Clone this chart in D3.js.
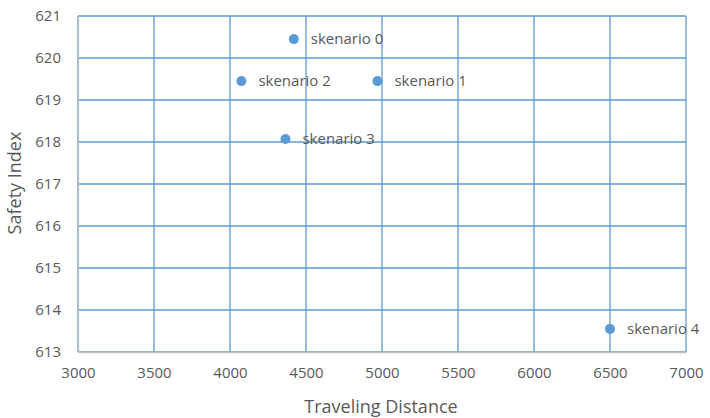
<!DOCTYPE html>
<html><head><meta charset="utf-8">
<script src="https://cdn.jsdelivr.net/npm/d3@7"></script>
<style>body{margin:0;background:#fff}svg{display:block}</style>
</head><body>
<script>
const labels = ["skenario 0","skenario 1","skenario 2","skenario 3","skenario 4"];
const distance = [4420, 4970, 4075, 4365, 6500];
const safety = [620.45, 619.45, 619.45, 618.07, 613.55];
const xTicks = [3000,3500,4000,4500,5000,5500,6000,6500,7000];
const yTicks = [613,614,615,616,617,618,619,620,621];

const W=710,H=418, m={l:78,r:24,t:16,b:66};
const svg=d3.select("body").append("svg").attr("width",W).attr("height",H);
const x=d3.scaleLinear().domain([3000,7000]).range([m.l,W-m.r]);
const y=d3.scaleLinear().domain([613,621]).range([H-m.b,m.t]);
const grid="#5b9bd5", txt="#595959", font="'Open Sans', sans-serif", fs="15px", tfs="18px";

svg.append("g").selectAll("line").data(xTicks).join("line")
 .attr("x1",d=>x(d)).attr("x2",d=>x(d)).attr("y1",y(613)).attr("y2",y(621))
 .attr("stroke",grid).attr("stroke-width",1.3);
svg.append("g").selectAll("line").data(yTicks).join("line")
 .attr("x1",x(3000)).attr("x2",x(7000)).attr("y1",d=>y(d)).attr("y2",d=>y(d))
 .attr("stroke",grid).attr("stroke-width",1.3);
const xa=svg.append("g").attr("transform",`translate(0,${y(613)})`)
 .call(d3.axisBottom(x).tickValues(xTicks).tickSize(0).tickPadding(15).tickFormat(d3.format("d")));
const ya=svg.append("g").attr("transform",`translate(${x(3000)},0)`)
 .call(d3.axisLeft(y).tickValues(yTicks).tickSize(0).tickPadding(17).tickFormat(d3.format("d")));
[xa,ya].forEach(a=>{a.select(".domain").attr("stroke","#bfbfbf").attr("stroke-width",1.3);
 a.selectAll("text").attr("fill",txt).style("font-family",font).style("font-size",fs);});

svg.append("g").selectAll("circle").data(labels).join("circle")
 .attr("cx",(d,i)=>x(distance[i])).attr("cy",(d,i)=>y(safety[i])).attr("r",5)
 .attr("fill",grid);
svg.append("g").selectAll("text").data(labels).join("text")
 .attr("x",(d,i)=>x(distance[i])+17).attr("y",(d,i)=>y(safety[i])).attr("dy","0.35em")
 .attr("fill",txt).style("font-family",font).style("font-size",fs).text(d=>d);

svg.append("text").attr("x",381).attr("y",413).attr("text-anchor","middle")
 .attr("fill",txt).style("font-family",font).style("font-size",tfs).text("Traveling Distance");
svg.append("text").attr("transform",`translate(21,183) rotate(-90)`).attr("text-anchor","middle")
 .attr("fill",txt).style("font-family",font).style("font-size",tfs).text("Safety Index");
</script>
</body></html>
